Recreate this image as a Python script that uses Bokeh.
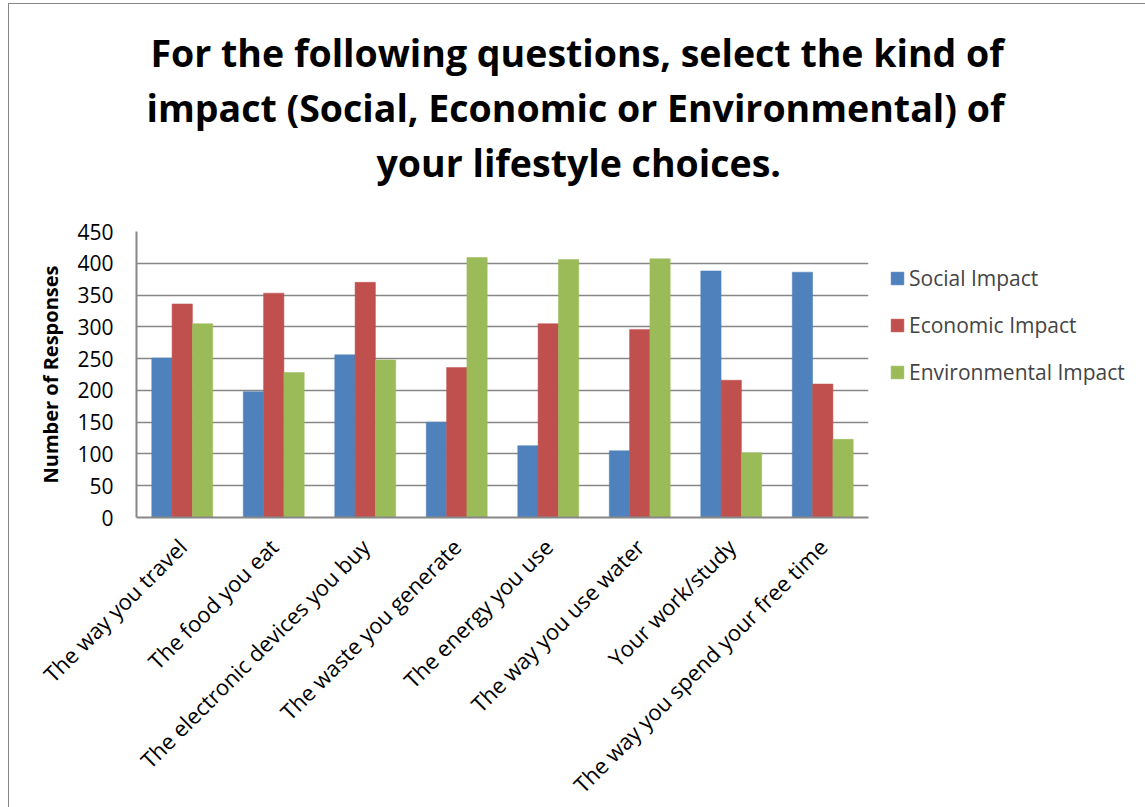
import math
from bokeh.plotting import figure
from bokeh.models import (FactorRange, Range1d, Legend, LegendItem, Title,
                          FixedTicker, ColumnDataSource)
from bokeh.transform import dodge
from bokeh.embed import file_html
from bokeh.resources import INLINE

# ---- data ----
categories = ["The way you travel", "The food you eat", "The electronic devices you buy",
              "The waste you generate", "The energy you use", "The way you use water",
              "Your work/study", "The way you spend your free time"]
social = [251, 198, 256, 150, 113, 105, 388, 386]
economic = [336, 353, 370, 236, 305, 296, 216, 210]
environmental = [305, 228, 248, 409, 406, 407, 102, 123]
series_names = ["Social Impact", "Economic Impact", "Environmental Impact"]
y_ticks = [0, 50, 100, 150, 200, 250, 300, 350, 400, 450]
title_lines = ["For the following questions, select the kind of",
               "impact (Social, Economic or Environmental) of",
               "your lifestyle choices."]
y_label = "Number of Responses"

colors = ["#4F81BD", "#C0504D", "#9BBB59"]
FONT = "Open Sans"
GRID = "#878787"

source = ColumnDataSource(dict(cat=categories, social=social,
                               economic=economic, environmental=environmental))

p = figure(x_range=FactorRange(*categories), y_range=Range1d(0, 450),
           frame_width=732, frame_height=286,
           output_backend="svg", toolbar_location=None,
           min_border_left=127, min_border_right=277, min_border_top=227,
           min_border_bottom=290,
           margin=(3, 0, 0, 8),
           styles={"border-left": "1px solid #868686", "border-top": "1px solid #868686"})
p.x_range.range_padding = 0
p.outline_line_color = None
p.background_fill_color = "white"
p.border_fill_color = "white"

bw = 0.222
renderers = []
for field, off, col in zip(["social", "economic", "environmental"], [-bw, 0, bw], colors):
    r = p.vbar(x=dodge("cat", off, range=p.x_range), top=field, width=bw, source=source,
               fill_color=col, line_color=col, line_width=0.5)
    renderers.append(r)

# grid
p.xgrid.grid_line_color = None
p.ygrid.grid_line_color = GRID
p.ygrid.grid_line_width = 1.6
p.yaxis.ticker = FixedTicker(ticks=y_ticks)

# axes
p.yaxis.axis_line_color = GRID
p.yaxis.axis_line_width = 2
p.yaxis.major_tick_line_color = None
p.yaxis.minor_tick_line_color = None
p.yaxis.major_label_text_font = FONT
p.yaxis.major_label_text_font_size = "21px"
p.yaxis.major_label_text_color = "black"
p.yaxis.major_label_standoff = 17
p.yaxis.axis_label = y_label
p.yaxis.axis_label_text_font = FONT
p.yaxis.axis_label_text_font_size = "20px"
p.yaxis.axis_label_text_font_style = "bold"
p.yaxis.axis_label_text_color = "black"
p.yaxis.axis_label_standoff = 10

p.xaxis.axis_line_color = GRID
p.xaxis.axis_line_width = 2
p.xaxis.major_tick_line_color = None
p.xaxis.minor_tick_line_color = None
p.xaxis.major_label_orientation = math.pi / 4
p.xaxis.major_label_text_font = FONT
p.xaxis.major_label_text_font_size = "22px"
p.xaxis.major_label_text_color = "black"
p.xaxis.major_label_standoff = 19

# legend
legend = Legend(items=[LegendItem(label=n, renderers=[r]) for n, r in zip(series_names, renderers)],
                location=(21, 131), orientation="vertical",
                label_text_font=FONT, label_text_font_size="21px",
                glyph_height=16, glyph_width=16, label_height=20, spacing=19,
                padding=0, margin=0, border_line_color=None,
                background_fill_alpha=0, label_standoff=4)
p.add_layout(legend, "right")

# title: spacer next to the frame, then lines bottom-up (later ones sit further out)
p.add_layout(Title(text=" ", text_font_size="2px", standoff=39), "above")
offsets = [14, 10, 240]
standoffs = [2, 2, 2]
for t, off, so in zip(reversed(title_lines), reversed(offsets), reversed(standoffs)):
    p.add_layout(Title(text=t, align="left", offset=off, standoff=so,
                       text_font=FONT, text_font_size="37.5px", text_font_style="bold",
                       text_color="black"), "above")

open("out.html", "w").write(file_html(p, INLINE))
